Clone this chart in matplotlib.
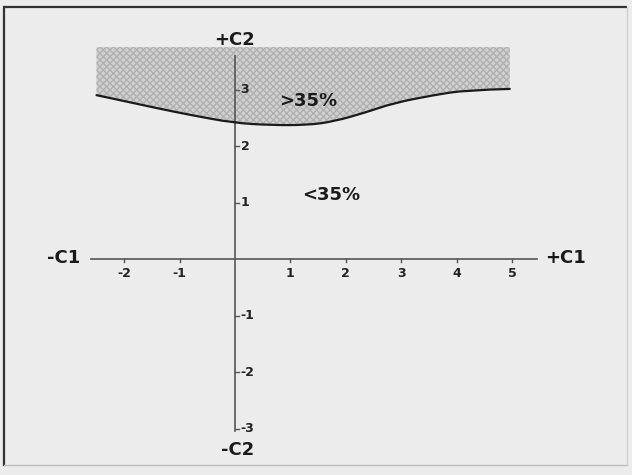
import matplotlib
matplotlib.use("Agg")
import matplotlib.pyplot as plt
import numpy as np
from matplotlib.path import Path
from matplotlib.patches import PathPatch

# Boundary curve separating the >35% zone from the <35% zone
boundary_c1 = [-2.50, -2.02, -1.41, -0.81, -0.03, 0.63, 1.29, 1.77, 2.38, 2.86, 3.58, 4.18, 4.96]
boundary_c2 = [2.90, 2.80, 2.67, 2.55, 2.41, 2.37, 2.37, 2.43, 2.60, 2.76, 2.90, 2.99, 3.01]
shade_top = 3.75

x_ticks = [-2, -1, 1, 2, 3, 4, 5]
y_ticks = [-3, -2, -1, 1, 2, 3]
x_tick_labels = ["-2", "-1", "1", "2", "3", "4", "5"]
y_tick_labels = ["-3", "-2", "-1", "1", "2", "3"]

W, H = 632, 475
fig = plt.figure(figsize=(W / 100, H / 100), dpi=100)
fig.patch.set_facecolor("#ececec")
ax = fig.add_axes([0, 0, 1, 1])
ax.set_facecolor("#ececec")
for s in ax.spines.values():
    s.set_visible(False)
ax.set_xticks([])
ax.set_yticks([])

# pixel mapping: origin at (235, 259), ~55.4 px per C1 unit, ~56.5 px per C2 unit
ox, oy, sx, sy = 235.0, 259.0, 55.4, 56.5
ax.set_xlim((0 - ox) / sx, (W - ox) / sx)
ax.set_ylim((oy - H) / sy, (oy - 0) / sy)

# frame around the chart
fx0, fx1 = (4 - ox) / sx, (627 - ox) / sx
fy0, fy1 = (oy - 465) / sy, (oy - 7) / sy
ax.plot([fx0, fx1], [fy1, fy1], color="#333333", lw=1.6, solid_capstyle="butt")
ax.plot([fx0, fx0], [fy0, fy1], color="#333333", lw=1.6)
ax.plot([fx0, fx1], [fy0, fy0], color="#bdbdbd", lw=1.0)
ax.plot([fx1, fx1], [fy0, fy1], color="#cfcfcf", lw=1.0)


def smooth_path_vertices(px, py):
    """Quadratic-Bezier path through the points (points act as control points)."""
    pts = np.column_stack([px, py])
    verts = [pts[0]]
    codes = [Path.MOVETO]
    for i in range(1, len(pts) - 1):
        mid = (pts[i] + pts[i + 1]) / 2 if i < len(pts) - 2 else pts[i + 1]
        verts += [pts[i], mid]
        codes += [Path.CURVE3, Path.CURVE3]
    return verts, codes


verts, codes = smooth_path_vertices(boundary_c1, boundary_c2)

# shaded >35% zone: curve, then up to the top edge and back
fill_verts = list(verts) + [(boundary_c1[-1], shade_top), (boundary_c1[0], shade_top),
                            (boundary_c1[0], boundary_c2[0])]
fill_codes = list(codes) + [Path.LINETO, Path.LINETO, Path.CLOSEPOLY]
ax.add_patch(PathPatch(Path(fill_verts, fill_codes), facecolor="#d0d0d0",
                       edgecolor="#b0b0b0", hatch="xxxxx", linewidth=0, zorder=1))
ax.add_patch(PathPatch(Path(verts, codes), facecolor="none", edgecolor="#1a1a1a",
                       lw=1.6, zorder=3, capstyle="round"))

# axes lines
ax.plot([-2.6, 5.45], [0, 0], color="#555555", lw=1.2, zorder=2)
ax.plot([0, 0], [-3.05, 3.6], color="#555555", lw=1.2, zorder=2)

tick_font = dict(fontsize=9, fontweight="bold", color="#222222", family="DejaVu Sans")
for x, lab in zip(x_ticks, x_tick_labels):
    ax.plot([x, x], [0, -0.06], color="#555555", lw=1.0, zorder=2)
    ax.text(x, -0.14, lab, ha="center", va="top", **tick_font)
for y, lab in zip(y_ticks, y_tick_labels):
    ax.plot([0, 0.08], [y, y], color="#555555", lw=1.0, zorder=2)
    ax.text(0.1, y, lab, ha="left", va="center", **tick_font)

lab_font = dict(fontsize=13, fontweight="bold", color="#1a1a1a", family="DejaVu Sans")
ax.text(0.0, 3.87, "+C2", ha="center", va="center", **lab_font)
ax.text(0.05, -3.38, "-C2", ha="center", va="center", **lab_font)
ax.text(-3.1, 0.02, "-C1", ha="center", va="center", **lab_font)
ax.text(5.97, 0.02, "+C1", ha="center", va="center", **lab_font)

ax.text(1.32, 2.80, ">35%", ha="center", va="center", zorder=4, **lab_font)
ax.text(1.73, 1.13, "<35%", ha="center", va="center", **lab_font)

fig.savefig("out.png", dpi=100, facecolor=fig.get_facecolor())
